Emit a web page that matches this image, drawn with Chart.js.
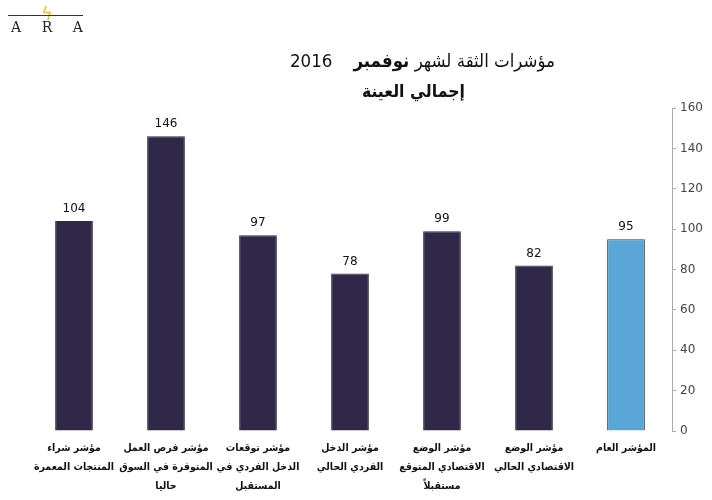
<!DOCTYPE html>
<html>
<head>
<meta charset="utf-8">
<script src="https://cdn.jsdelivr.net/npm/chart.js@4"></script>
<style>
  body { margin: 0; background: #fff; }
  .wrap { position: relative; width: 712px; height: 500px; overflow: hidden; }
  canvas { position: absolute; left: 0; top: 0; }
  .logo { position: absolute; left: 8px; top: 15px; width: 75px; border-top: 1px solid #333;
          font-family: "DejaVu Serif", "Liberation Serif", serif; font-size: 14px; color: #222;
          display: flex; justify-content: space-between; padding: 3px 0 0 3px; box-sizing: border-box; }
  .bolt { position: absolute; left: 41px; top: 3px; color: #f2c12e; font-size: 18px; font-family: "DejaVu Sans", sans-serif; }
  .title { position: absolute; direction: rtl; font-family: "DejaVu Sans Condensed", "DejaVu Sans", sans-serif;
           color: #111; font-size: 19px; white-space: nowrap; }
  .t1 { top: 50px; right: 157px; font-size: 18.5px; }
  .t2 { top: 81px; right: 247px; font-weight: bold; font-size: 17.5px; }
</style>
</head>
<body>
<div class="wrap">
  <canvas class="mychart" width="712" height="500"></canvas>
  <div class="bolt">ϟ</div>
  <div class="logo"><span>A</span><span>R</span><span>A</span></div>
  <div class="title t1">مؤشرات الثقة لشهر <b>نوفمبر</b>&nbsp;&nbsp;&nbsp; 2016</div>
  <div class="title t2">إجمالي العينة</div>
</div>
<script>
// categories listed right to left (the x axis is reversed)
var categories = [
  ["المؤشر العام"],
  ["مؤشر الوضع", "الاقتصادي الحالي"],
  ["مؤشر الوضع", "الاقتصادي المتوقع", "مستقبلاً"],
  ["مؤشر الدخل", "الفردي الحالي"],
  ["مؤشر توقعات", "الدخل الفردي في", "المستقبل"],
  ["مؤشر فرص العمل", "المتوفرة في السوق", "حاليا"],
  ["مؤشر شراء", "المنتجات المعمرة"]
];
var values = [95, 82, 99, 78, 97, 146, 104];
var yTicks = [0, 20, 40, 60, 80, 100, 120, 140, 160];

var barColors = values.map(function (v, i) { return i === 0 ? "#5aa6d7" : "#2f2849"; });
var borderColors = values.map(function (v, i) { return i === 0 ? "#2b3b4f" : "#2f2849"; });

// value labels above bars
var valueLabels = {
  id: "valueLabels",
  afterDatasetsDraw: function (chart) {
    var c = chart.ctx;
    var meta = chart.getDatasetMeta(0);
    c.save();
    c.fillStyle = "#111";
    c.font = "12px 'DejaVu Sans', sans-serif";
    c.textAlign = "center";
    c.textBaseline = "bottom";
    meta.data.forEach(function (bar, i) {
      c.fillText(values[i], bar.x, bar.y - 6);
    });
    c.restore();
  }
};

var x = document.querySelector(".mychart").getContext("2d");
var chart = new Chart(x, {
  type: "bar",
  data: {
    labels: categories,
    datasets: [{
      label: "المؤشر",
      data: values,
      backgroundColor: barColors,
      borderColor: borderColors,
      borderWidth: 1,
      categoryPercentage: 1,
      barPercentage: 0.41
    }]
  },
  options: {
    responsive: false,
    animation: false,
    layout: { padding: { top: 108, left: 28, right: 0, bottom: 0 } },
    plugins: {
      legend: { display: false },
      tooltip: { enabled: false }
    },
    scales: {
      x: {
        reverse: true,
        grid: { display: false },
        border: { display: false },
        ticks: {
          color: "#111",
          font: { family: "'DejaVu Sans Condensed', 'DejaVu Sans', sans-serif", size: 10.5, weight: "bold", lineHeight: 1.8 },
          maxRotation: 0,
          autoSkip: false,
          padding: 0
        },
        afterFit: function (scale) { scale.height = 69; }
      },
      y: {
        position: "right",
        min: 0,
        max: 160,
        afterBuildTicks: function (scale) { scale.ticks = yTicks.map(function (v) { return { value: v }; }); },
        grid: { drawOnChartArea: false, tickLength: 4, color: "#aaa" },
        border: { display: true, color: "#aaa" },
        ticks: {
          color: "#444",
          font: { family: "'DejaVu Sans', sans-serif", size: 12 },
          padding: 4
        },
        afterFit: function (scale) { scale.width = 40; }
      }
    }
  },
  plugins: [valueLabels]
});
</script>
</body>
</html>
